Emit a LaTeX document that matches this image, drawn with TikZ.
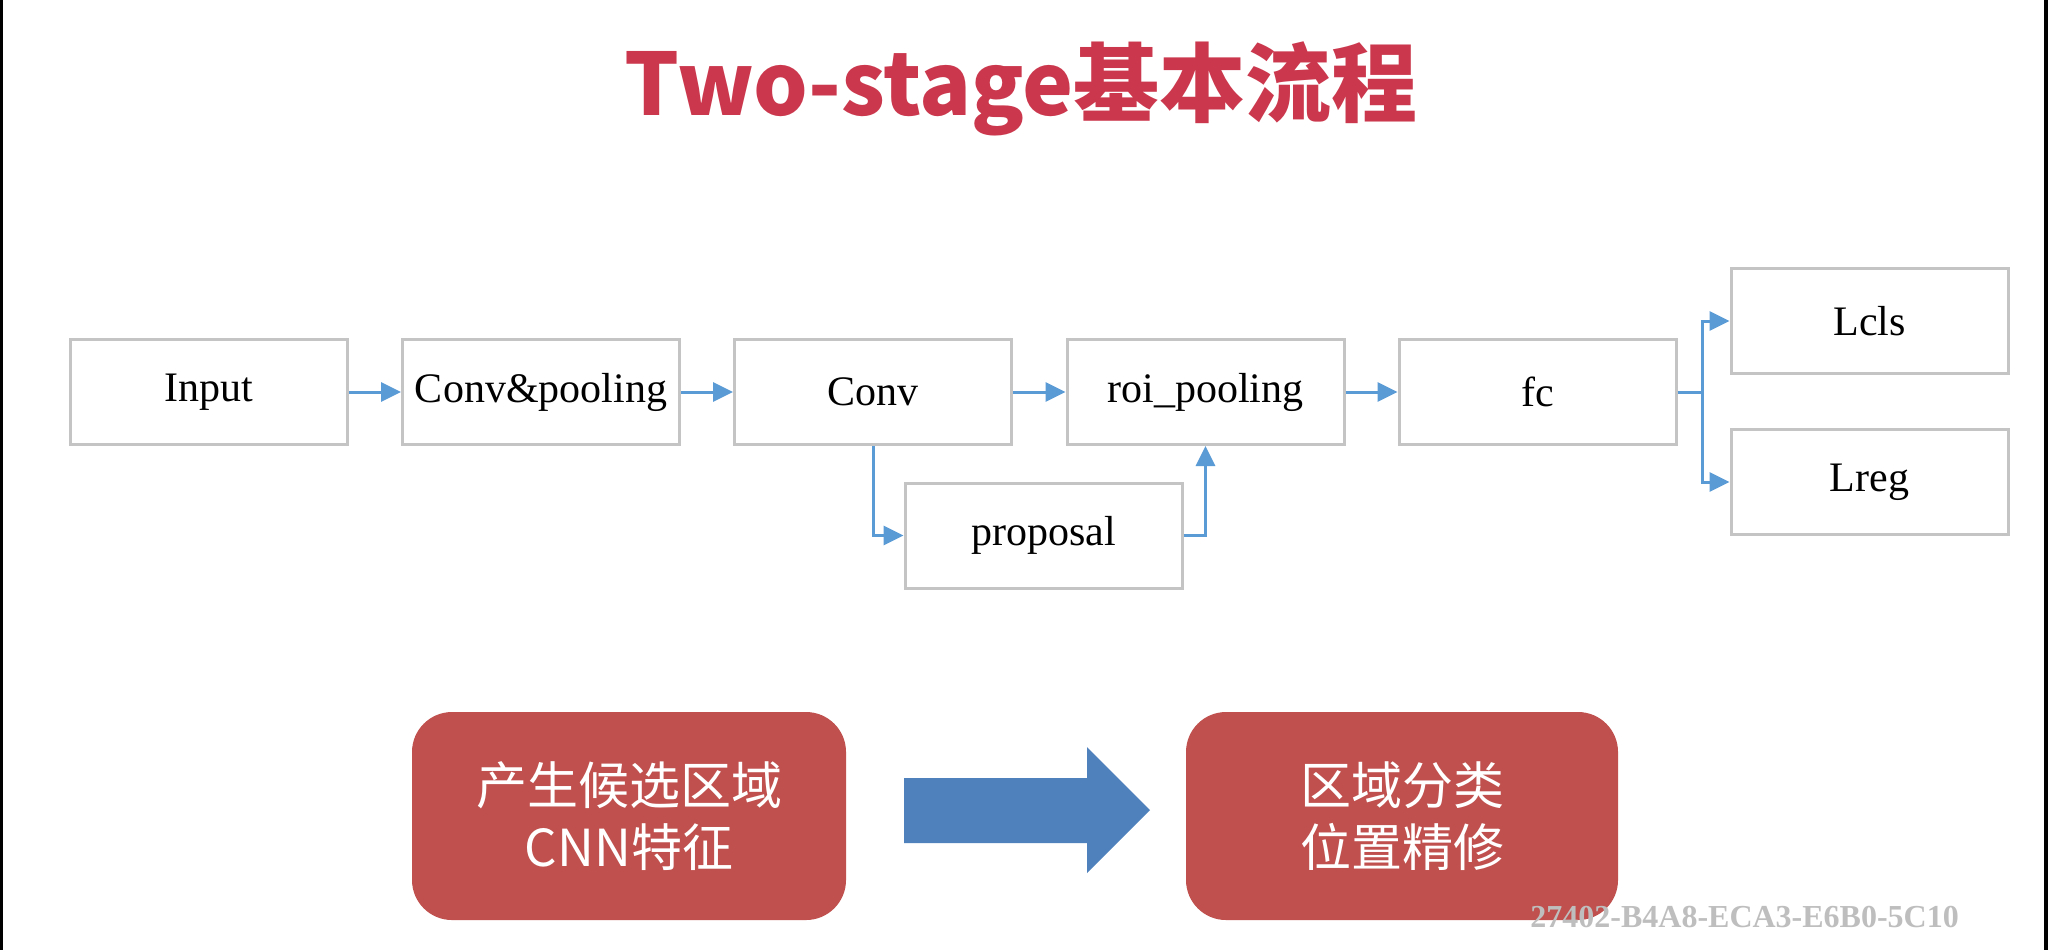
\documentclass[tikz,border=0pt]{standalone}
\usepackage{fontspec}
\setmainfont{Liberation Serif}
\newfontfamily\cjk{Noto Sans CJK SC}
\usetikzlibrary{arrows.meta}
\definecolor{titlered}{RGB}{203,56,77}
\definecolor{boxgray}{RGB}{196,196,196}
\definecolor{arrowblue}{RGB}{91,155,213}
\definecolor{blockred}{RGB}{192,80,77}
\definecolor{blockblue}{RGB}{79,129,189}
\definecolor{wmgray}{RGB}{190,190,190}
\begin{document}
\begin{tikzpicture}[x=0.5pt,y=-0.5pt,
  flowbox/.style={draw=boxgray, line width=1.5pt, fill=white, minimum width=138.5pt,
    minimum height=52.5pt, inner sep=0pt, font=\fontsize{21pt}{25pt}\selectfont},
  flowline/.style={draw=arrowblue, line width=1.5pt},
  flow/.style={flowline, -{Triangle[length=10pt,width=9.5pt]}},
  stagebox/.style={fill=blockred, rounded corners=20pt, minimum height=104pt, inner sep=0pt,
    text=white, align=center, font=\cjk\fontsize{25.5pt}{31pt}\selectfont},
]
\fill[white] (0,0) rectangle (2048,950);
\useasboundingbox (0,0) rectangle (2048,950);
\fill[black] (0,0) rectangle (3,950);
\fill[black] (2044,0) rectangle (2048,950);

\node[anchor=base, inner sep=0pt, text=titlered, font=\cjk\bfseries\fontsize{43pt}{50pt}\selectfont] (title) at (1021,115) {Two-stage基本流程};

\node[flowbox] (input) at (209,392) {Input};
\node[flowbox] (convpool) at (541,392) {Conv\&pooling};
\node[flowbox] (conv) at (873,392) {Conv};
\node[flowbox] (roi) at (1205.5,392) {roi\_pooling};
\node[flowbox] (fc) at (1537.5,392) {fc};
\node[flowbox] (lcls) at (1869.5,321) {Lcls};
\node[flowbox] (lreg) at (1869.5,482) {Lreg};
\node[flowbox] (proposal) at (1043.5,535.5) {proposal};
\coordinate (split) at (1702,392);

\draw[flow] (input.east) -- (convpool.west);
\draw[flow] (convpool.east) -- (conv.west);
\draw[flow] (conv.east) -- (roi.west);
\draw[flow] (roi.east) -- (fc.west);
\draw[flowline] (fc.east) -- (split);
\draw[flow] (split) |- (lcls.west);
\draw[flow] (split) |- (lreg.west);
\draw[flow] (conv.south) |- (proposal.west);
\draw[flow] (proposal.east) -| (roi.south);

\node[stagebox, minimum width=217pt] (s1) at (629,816) {产生候选区域\\CNN特征};
\node[stagebox, minimum width=216pt] (s2) at (1402,816) {区域分类\\位置精修};
\fill[blockblue] (904,778) -- (1087,778) -- (1087,747) -- (1150,810) -- (1087,873) -- (1087,843) -- (904,843) -- cycle;

\node[anchor=base west, inner sep=0pt, text=wmgray, font=\bfseries\fontsize{16pt}{18pt}\selectfont] (wm) at (1530,927) {27402-B4A8-ECA3-E6B0-5C10};
\end{tikzpicture}
\end{document}
